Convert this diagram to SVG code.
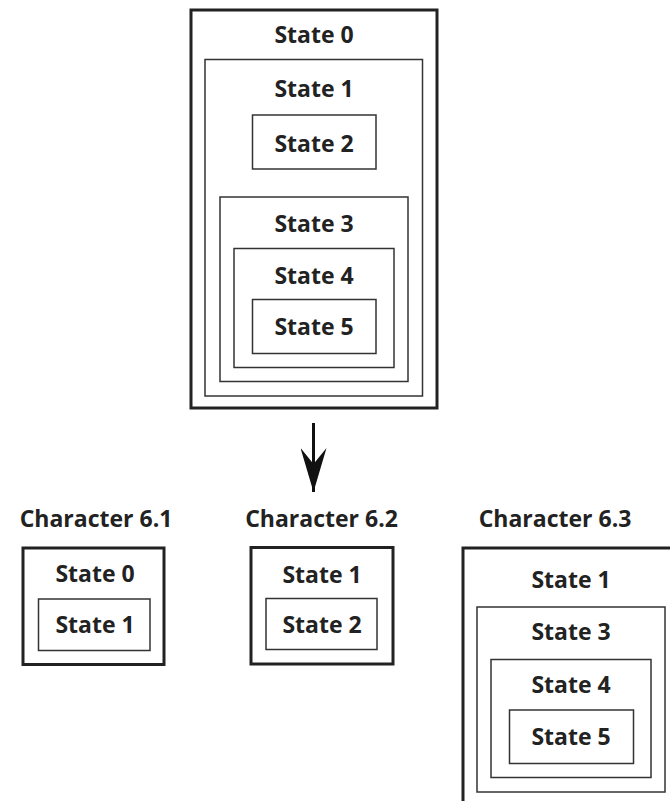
<svg xmlns="http://www.w3.org/2000/svg" width="670" height="801" viewBox="0 0 670 801">
<style>
  .bg { fill: #ffffff; }
  .outer { fill: none; stroke: #222222; stroke-width: 3; }
  .inner { fill: none; stroke: #333333; stroke-width: 1.5; }
  .lbl { font-family: "Open Sans", "Liberation Sans", sans-serif; font-weight: bold; font-size: 23px; fill: #222222; text-anchor: middle; }
  .conn { stroke: #111111; stroke-width: 3; fill: none; }
</style>
<defs>
  <marker id="arrow" markerUnits="userSpaceOnUse" markerWidth="44" markerHeight="26" viewBox="0 0 44 26" refX="44" refY="13" orient="auto">
    <path d="M0,0 L44,13 L0,26 L16,13 Z" fill="#111111"/>
  </marker>
</defs>
<rect class="bg" x="0" y="0" width="670" height="801"/>

<g id="state0-top">
  <rect class="outer" x="191" y="10" width="246" height="398"/>
  <text class="lbl" x="314" y="43">State 0</text>
</g>
<g id="state1-top">
  <rect class="inner" x="205" y="59.5" width="217.5" height="336.5"/>
  <text class="lbl" x="314" y="97">State 1</text>
</g>
<g id="state2-top">
  <rect class="inner" x="252.5" y="115" width="123.5" height="54"/>
  <text class="lbl" x="314" y="151.5">State 2</text>
</g>
<g id="state3-top">
  <rect class="inner" x="220" y="197" width="188" height="184.5"/>
  <text class="lbl" x="314" y="231.5">State 3</text>
</g>
<g id="state4-top">
  <rect class="inner" x="234" y="248.5" width="160" height="119"/>
  <text class="lbl" x="314" y="283.5">State 4</text>
</g>
<g id="state5-top">
  <rect class="inner" x="252.5" y="299.5" width="123.5" height="54"/>
  <text class="lbl" x="314" y="335">State 5</text>
</g>

<g id="connectors">
  <line class="conn" x1="313.5" y1="423" x2="313.5" y2="492" marker-end="url(#arrow)"/>
</g>

<g id="char61">
  <text class="lbl" x="96" y="527">Character 6.1</text>
  <rect class="outer" x="23" y="548" width="141" height="116.5"/>
  <text class="lbl" x="95" y="582">State 0</text>
  <rect class="inner" x="38.5" y="599" width="111.5" height="51.5"/>
  <text class="lbl" x="95" y="633">State 1</text>
</g>

<g id="char62">
  <text class="lbl" x="321.5" y="527">Character 6.2</text>
  <rect class="outer" x="251" y="547.5" width="142" height="116.5"/>
  <text class="lbl" x="322" y="583">State 1</text>
  <rect class="inner" x="266" y="598.5" width="111" height="51"/>
  <text class="lbl" x="322" y="633">State 2</text>
</g>

<g id="char63">
  <text class="lbl" x="555" y="527">Character 6.3</text>
  <rect class="outer" x="463" y="548" width="240" height="300"/>
  <text class="lbl" x="571" y="588">State 1</text>
  <rect class="inner" x="477" y="607" width="188" height="185"/>
  <text class="lbl" x="571" y="640">State 3</text>
  <rect class="inner" x="491" y="659.5" width="160" height="118"/>
  <text class="lbl" x="571" y="693">State 4</text>
  <rect class="inner" x="509.5" y="710" width="124" height="53.5"/>
  <text class="lbl" x="571" y="745">State 5</text>
</g>
</svg>
